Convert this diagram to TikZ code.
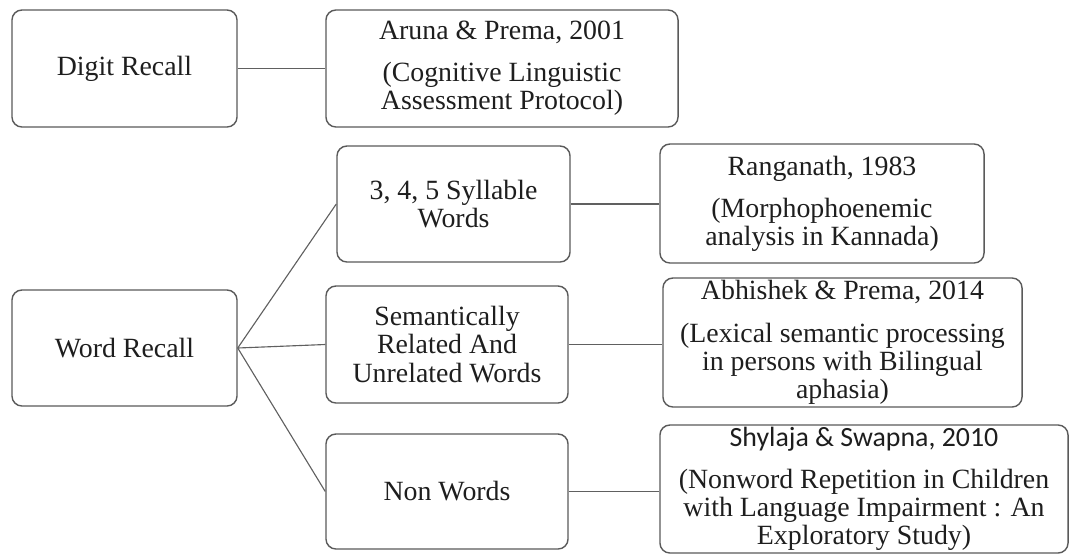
\documentclass[tikz,border=0pt]{standalone}
\usepackage{fontspec}
\setmainfont{Liberation Serif}
\setsansfont{Carlito}
\usepackage{tikz}
\usetikzlibrary{calc}
\definecolor{boxgray}{HTML}{5A5A5A}
\definecolor{linegray}{HTML}{606060}
\definecolor{inkgray}{HTML}{1E1E1E}
\def\drawlink{\draw[color=linegray, line width=0.8pt]}
\def\boxnode{\node[box]}

\begin{document}
\begin{tikzpicture}[x=0.025cm,y=-0.025cm,
  box/.style={draw=boxgray, line width=1pt, rounded corners=0.25cm, fill=white,
    text=inkgray, align=center, inner sep=0pt,
    font=\fontsize{19.8}{20}\selectfont}]
\useasboundingbox (0,0) rectangle (1072,554);

% ---------- Digit Recall row
\boxnode[minimum width=5.625cm, minimum height=2.925cm] (digit) at (124.5,68.5) {Digit Recall};
\boxnode[minimum width=8.8cm, minimum height=2.925cm] (aruna) at (502,68.5)
  {Aruna \& Prema, 2001\\[10pt](Cognitive Linguistic\\Assessment Protocol)};
\drawlink (digit.east) to (aruna.west);

% ---------- Word Recall and its three tasks
\boxnode[minimum width=5.625cm, minimum height=2.9cm] (word) at (124.5,348) {Word Recall};
\boxnode[minimum width=5.825cm, minimum height=2.9cm] (syll) at (453.5,204)
  {3, 4, 5 Syllable\\Words};
\boxnode[minimum width=6.05cm, minimum height=2.925cm] (sem) at (447,344.5)
  {Semantically\\Related And\\Unrelated Words};
\boxnode[minimum width=6.05cm, minimum height=2.875cm] (non) at (447,491.5) {Non Words};
\coordinate (fan) at (word.east); % where the three links leave Word Recall
\drawlink (fan) to (syll.west);
\drawlink (fan) to (sem.west);
\drawlink (fan) to (non.west);

% ---------- sources on the right
\boxnode[minimum width=8.1cm, minimum height=2.975cm] (rang) at (822,203.5)
  {Ranganath, 1983\\[10pt](Morphophoenemic\\analysis in Kannada)};
\boxnode[minimum width=8.975cm, minimum height=3.225cm] (abhi) at (842.5,342.5)
  {Abhishek \& Prema, 2014\\[10pt](Lexical semantic processing\\in persons with Bilingual\\aphasia)};
\boxnode[minimum width=10.2cm, minimum height=3.2cm] (shyl) at (864,489)
  {{\sffamily Shylaja \& Swapna, 2010}\\[10pt](Nonword Repetition in Children\\with Language Impairment : An\\Exploratory Study)};
\drawlink (syll.east) to (syll.east -| rang.west);
\drawlink (sem.east) to (sem.east -| abhi.west);
\drawlink (non.east) to (non.east -| shyl.west);
\end{tikzpicture}
\end{document}
